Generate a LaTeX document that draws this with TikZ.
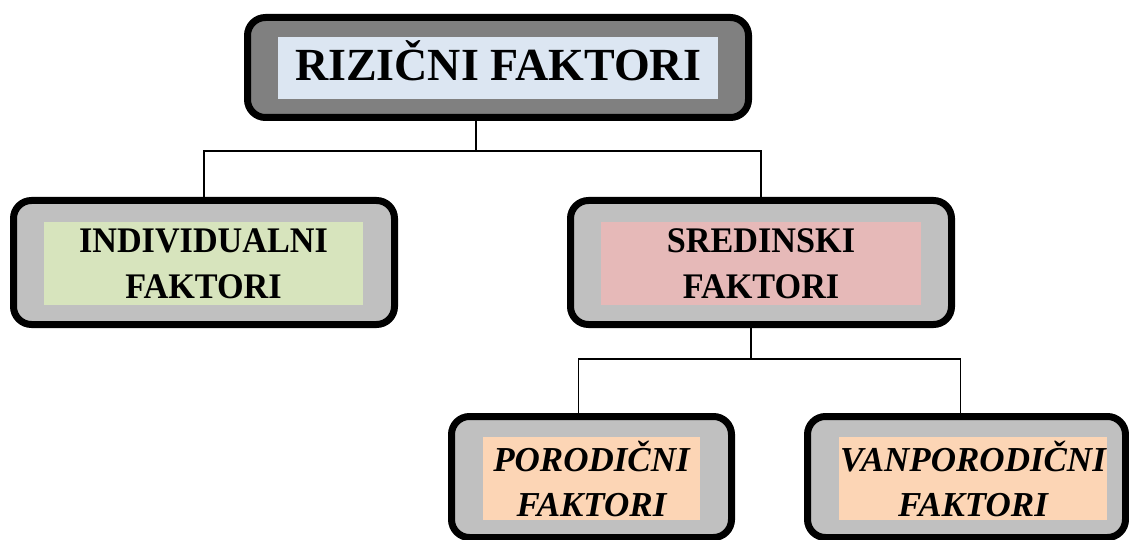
\documentclass[tikz,border=0pt]{standalone}
\usepackage{fontspec}
\setmainfont{Liberation Serif}
\newfontfamily\narrowserif[FakeStretch=0.95]{Liberation Serif}
\usetikzlibrary{positioning}

\definecolor{framedark}{HTML}{808080}
\definecolor{framegray}{HTML}{C0C0C0}
\definecolor{fieldblue}{HTML}{DCE6F2}
\definecolor{fieldgreen}{HTML}{D7E4BD}
\definecolor{fieldpink}{HTML}{E6B9B8}
\definecolor{fieldpeach}{HTML}{FCD5B5}

\tikzstyle{outerbox} = [
    rectangle,
    rounded corners=18pt,
    line width=7pt,
    draw=black,
    fill=framegray
]
\tikzstyle{field} = [
    rectangle,
    inner sep=0pt,
    minimum height=83pt,
    text centered,
    align=center,
    font=\narrowserif\fontsize{36}{46}\selectfont\bfseries
]
\tikzstyle{link} = [line width=1.6pt]

\begin{document}
\begin{tikzpicture}[x=1pt, y=-1pt]
\useasboundingbox (0,0) rectangle (1129,540);

% frames
\node (rizik) [outerbox, fill=framedark, minimum width=501pt, minimum height=100pt] at (498,67.5) {};
\node (indiv) [outerbox, minimum width=381pt, minimum height=124pt] at (204,262.5) {};
\node (sred) [outerbox, minimum width=381pt, minimum height=124pt] at (761,262.5) {};
\node (porod) [outerbox, minimum width=280pt, minimum height=121pt] at (591.5,477) {};
\node (vanpor) [outerbox, minimum width=318pt, minimum height=121pt] at (966.5,477) {};

% coloured fields
\node (rizikT) [field, fill=fieldblue, minimum width=440pt, minimum height=62pt, text height=30.5pt, text depth=4.5pt, font=\fontsize{46}{54}\selectfont\bfseries] at (498,68) {RIZIČNI FAKTORI};
\node (indivT) [field, fill=fieldgreen, minimum width=319pt] at (203.5,263.5) {INDIVIDUALNI\\FAKTORI};
\node (sredT) [field, fill=fieldpink, minimum width=320pt] at (761,263.5) {SREDINSKI\\FAKTORI};
\node (porodT) [field, fill=fieldpeach, minimum width=217pt, font=\fontsize{35}{45}\selectfont\bfseries\itshape] at (591.5,478.5) {PORODIČNI\\FAKTORI};
\node (vanporT) [field, fill=fieldpeach, minimum width=268pt, font=\fontsize{35}{45}\selectfont\bfseries\itshape] at (973,478.5) {VANPORODIČNI\\FAKTORI};

% connectors
\coordinate (rizikBus) at (476,151);
\coordinate (sredBus) at (751,359);
\draw [link] (rizik.south -| rizikBus) -- (rizikBus);
\draw [link] (indiv.north) |- (rizikBus) -| (sred.north);
\draw [link] (sred.south -| sredBus) -- (sredBus);
\draw [link] ([xshift=-13pt]porod.north) |- (sredBus) -| ([xshift=-6pt]vanpor.north);

\end{tikzpicture}
\end{document}
